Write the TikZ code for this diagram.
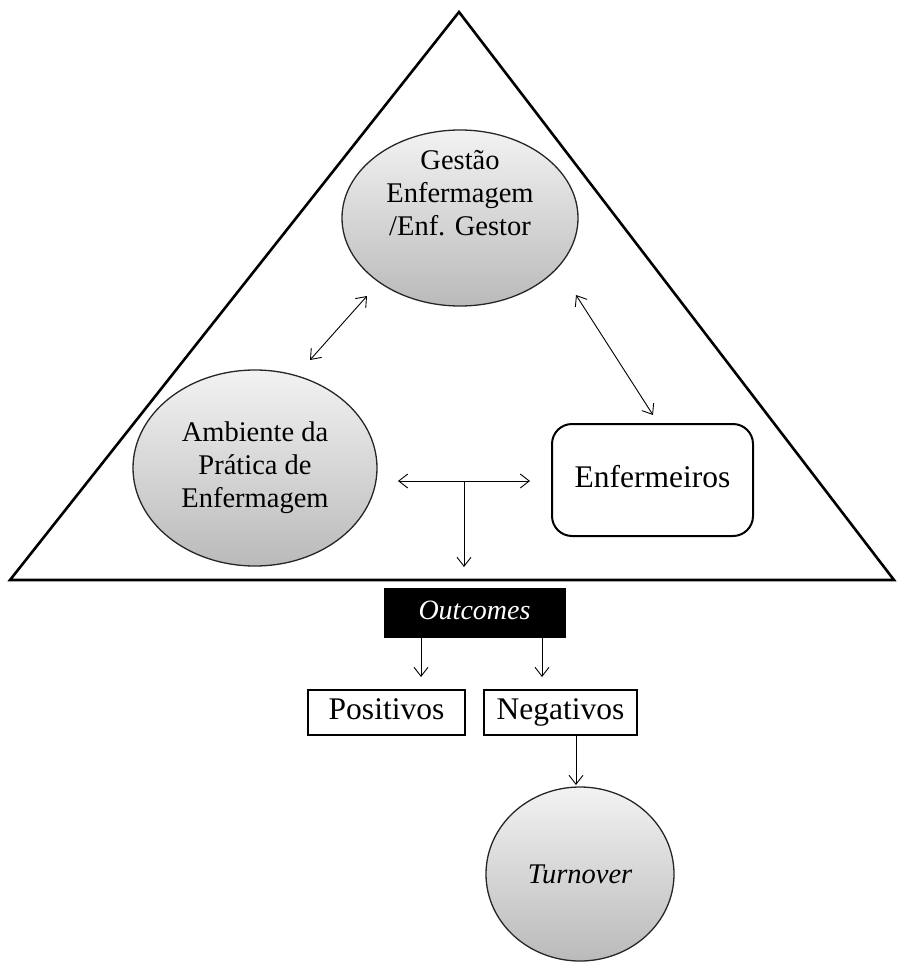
\documentclass[tikz,border=0pt]{standalone}
\usepackage{fontspec}
\setmainfont{Liberation Serif}
\usetikzlibrary{arrows.meta,shapes.geometric}
\begin{document}
\begin{tikzpicture}[x=1pt,y=-1pt,
  bubble/.style={ellipse, draw=black!85, line width=1.3pt, top color=black!5, bottom color=black!27, inner sep=0pt},
  btext/.style={align=center, font=\fontsize{28.5}{33}\selectfont, text=black},
  box/.style={rectangle, draw=black, line width=2pt, inner sep=0pt, text height=21pt, text depth=7pt, font=\fontsize{31.5}{36}\selectfont},
  onehead/.style={line width=0.9pt, -{Straight Barb[length=9pt,width=14pt]}},
  twohead/.style={line width=0.9pt, {Straight Barb[length=9pt,width=14pt]}-{Straight Barb[length=9pt,width=14pt]}},
  tri/.style={line width=2.6pt, line join=miter}
]
\useasboundingbox (0,0) rectangle (897,963);

% triangle
\draw[tri] (459,12) -- (894,580) -- (10,580) -- cycle;

% nodes
\node[bubble, minimum width=236pt, minimum height=176pt,
  label={[btext,yshift=25pt]center:Gestão\\Enfermagem\\/Enf. Gestor}] (gest) at (460,218) {};
\node[bubble, minimum width=244pt, minimum height=196pt,
  label={[btext]center:Ambiente da\\Prática de\\Enfermagem}] (amb) at (255,468) {};
\node[box, rounded corners=20pt, minimum width=201pt, minimum height=112pt] (enf) at (652.5,480) {Enfermeiros};
\node[rectangle, fill=black, draw=black, inner sep=0pt, minimum width=181pt, minimum height=49pt,
  text height=19pt, text depth=6pt,
  text=white, font=\fontsize{28}{33}\selectfont\itshape] (outc) at (474.5,612.5) {Outcomes};
\node[box, minimum width=157pt, minimum height=45pt] (pos) at (386.5,712.5) {Positivos};
\node[box, minimum width=153pt, minimum height=45pt] (neg) at (560.5,712.5) {Negativos};
\node[bubble, minimum width=188pt, minimum height=174pt,
  label={[btext,font=\fontsize{28.5}{33}\selectfont\itshape]center:Turnover}] (turn) at (580,874) {};

% connector end points
\coordinate (d1a) at (310,360);
\coordinate (d1b) at (367,296);
\coordinate (d2a) at (576,295);
\coordinate (d2b) at (653,415);
\coordinate (hl) at (398,481);
\coordinate (hr) at (530,481);
\coordinate (hm) at (464,481);
\coordinate (hd) at (464,567);
\coordinate (o1) at (421,677);
\coordinate (o2) at (542,677);
\coordinate (n1) at (576,785);

% connectors
\draw[twohead] (d1a) -- (d1b);
\draw[twohead] (d2a) -- (d2b);
\draw[twohead] (hl) -- (hr);
\draw[onehead] (hm) -- (hd);
\draw[onehead] (outc.south -| o1) -- (o1);
\draw[onehead] (outc.south -| o2) -- (o2);
\draw[onehead] (neg.south -| n1) -- (n1);
\end{tikzpicture}
\end{document}
